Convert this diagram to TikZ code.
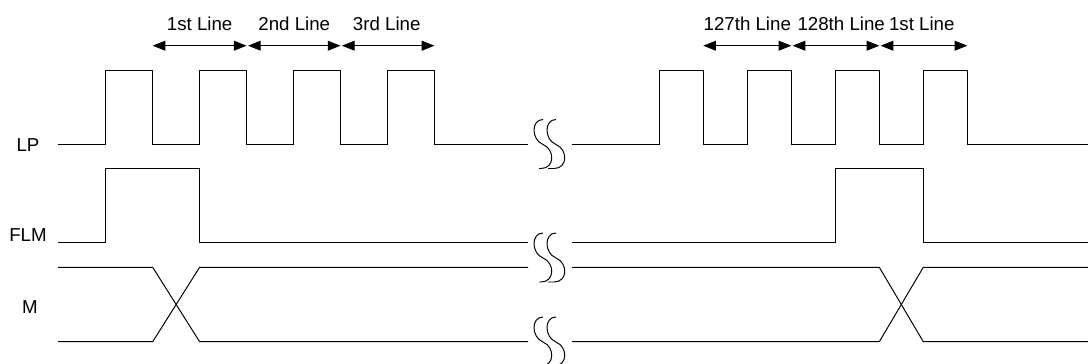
\documentclass[tikz,border=0pt]{standalone}
\usepackage{fontspec}
\setmainfont{Liberation Sans}
\usetikzlibrary{arrows.meta}
\tikzset{
  sig/.style     = {line width=0.7pt},
  span/.style    = {line width=0.7pt,
                    {Triangle[length=9pt,width=7pt]}-{Triangle[length=9pt,width=7pt]}},
  lbl/.style     = {font=\fontsize{13.3}{16}\selectfont, inner sep=0pt},
  breakmark/.pic = {
    \draw[sig] (10,0)..controls(-2,0)and(-2,20)..(10,25)
               ..controls(22,30)and(22,49)..(8,49)--(6,49);
    \draw[sig] (23,0)..controls(11,0)and(11,20)..(23,25)
               ..controls(35,30)and(35,49)..(21,49)--(15,49);
  },
}

\begin{document}
\begin{tikzpicture}[x=0.025cm, y=-0.025cm]
  \useasboundingbox (0,0) rectangle (1088,363);
  % signal names
  \node[lbl] (lp)  at (28,145) {LP};
  \node[lbl] (flm) at (28,235) {FLM};
  \node[lbl] (m)   at (30,307) {M};
  % LP
  \draw[sig] (58,144) \foreach \r in {105.7,199.6,293.5,387.4}
    {-- (\r,144) -- (\r,70) -- ({\r+47},70) -- ({\r+47},144)} -- (528,144);
  \draw[sig] (572,144) \foreach \r in {659.3,747.3,835.3,923.3}
    {-- (\r,144) -- (\r,70) -- ({\r+44},70) -- ({\r+44},144)} -- (1088,144);
  % FLM
  \draw[sig] (58,242) -- (105.7,242) -- (105.7,168.3) -- (199.6,168.3)
    -- (199.6,242) -- (528,242);
  \draw[sig] (572,242) -- (835.3,242) -- (835.3,168.3) -- (923.3,168.3)
    -- (923.3,242) -- (1088,242);
  % M
  \draw[sig] (58,267.3) -- (152.7,267.3) -- (199.6,341.7) -- (528,341.7);
  \draw[sig] (58,341.7) -- (152.7,341.7) -- (199.6,267.3) -- (528,267.3);
  \draw[sig] (572,267.3) -- (879.3,267.3) -- (923.3,341.7) -- (1088,341.7);
  \draw[sig] (572,341.7) -- (879.3,341.7) -- (923.3,267.3) -- (1088,267.3);
  % breaks
  \pic at (533,119.5) {breakmark};
  \pic at (533,233) {breakmark};
  \pic at (533,317) {breakmark};
  % line spans
  \coordinate (a0) at (152.7,45.7);
  \coordinate (a1) at (246.6,45.7);
  \coordinate (a2) at (340.5,45.7);
  \coordinate (a3) at (434.4,45.7);
  \draw[span] (a0) -- (a1) node[lbl, midway, above=10.2pt] (l1) {1st Line};
  \draw[span] ([xshift=1pt]a1) -- (a2) node[lbl, midway, above=10.2pt] (l2) {2nd Line};
  \draw[span] ([xshift=1pt]a2) -- (a3) node[lbl, midway, above=10.2pt, xshift=-1pt] (l3) {3rd Line};
  \coordinate (b0) at (703.3,45.7);
  \coordinate (b1) at (791.3,45.7);
  \coordinate (b2) at (879.3,45.7);
  \coordinate (b3) at (967.3,45.7);
  \draw[span] (b0) -- (b1) node[lbl, midway, above=10.2pt] (k1) {127th Line};
  \draw[span] ([xshift=1pt]b1) -- (b2) node[lbl, midway, above=10.2pt, xshift=3.7pt] (k2) {128th Line};
  \draw[span] ([xshift=1pt]b2) -- (b3) node[lbl, midway, above=10.2pt, xshift=-1.6pt] (k3) {1st Line};
\end{tikzpicture}
\end{document}
